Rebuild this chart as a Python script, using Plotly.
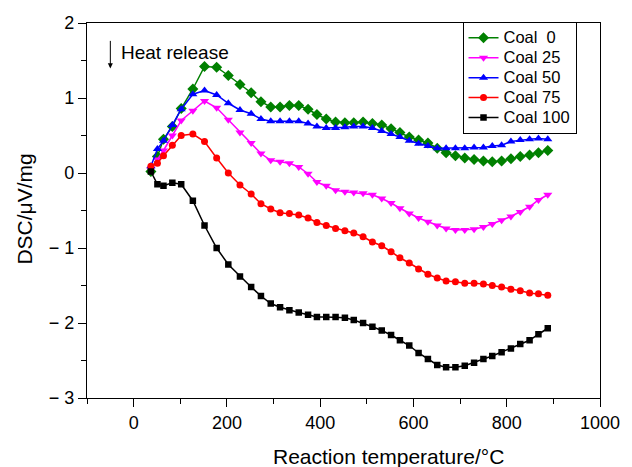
import plotly.graph_objects as go

# Reaction temperature (°C) at each plotted marker
temperature = [37, 51, 64, 83, 102, 127, 152, 178, 203, 228,
               252, 273, 294, 314, 334, 354, 374, 393, 413, 433,
               453, 472, 492, 512, 532, 552, 571, 591, 611, 631,
               651, 670, 690, 710, 730, 750, 769, 789, 809, 829,
               849, 868, 888]

coal_0 = [0.02, 0.22, 0.45, 0.62, 0.86, 1.12, 1.42, 1.41, 1.30, 1.18,
          1.07, 0.95, 0.88, 0.88, 0.90, 0.90, 0.85, 0.78, 0.72, 0.68,
          0.67, 0.67, 0.68, 0.66, 0.64, 0.59, 0.54, 0.48, 0.44, 0.40,
          0.33, 0.27, 0.23, 0.20, 0.18, 0.16, 0.15, 0.16, 0.19, 0.22,
          0.24, 0.27, 0.30]

coal_25 = [0.05, 0.18, 0.30, 0.50, 0.70, 0.83, 0.96, 0.87, 0.71, 0.54,
           0.40, 0.26, 0.17, 0.15, 0.13, 0.08, -0.01, -0.12, -0.17, -0.23,
           -0.25, -0.26, -0.27, -0.29, -0.34, -0.40, -0.47, -0.54, -0.60, -0.65,
           -0.70, -0.74, -0.76, -0.76, -0.75, -0.72, -0.68, -0.63, -0.58, -0.52,
           -0.45, -0.36, -0.29]

coal_50 = [0.09, 0.32, 0.43, 0.64, 0.85, 1.05, 1.10, 1.04, 0.93, 0.84,
           0.79, 0.72, 0.69, 0.69, 0.69, 0.69, 0.66, 0.62, 0.60, 0.60,
           0.61, 0.62, 0.62, 0.60, 0.56, 0.52, 0.48, 0.43, 0.39, 0.36,
           0.33, 0.33, 0.33, 0.33, 0.34, 0.34, 0.36, 0.37, 0.42, 0.44,
           0.45, 0.46, 0.45]

coal_75 = [0.09, 0.13, 0.23, 0.37, 0.50, 0.52, 0.42, 0.20, 0.00, -0.16,
           -0.28, -0.41, -0.48, -0.53, -0.54, -0.56, -0.60, -0.66, -0.70, -0.74,
           -0.77, -0.80, -0.85, -0.92, -0.97, -1.05, -1.13, -1.20, -1.28, -1.35,
           -1.40, -1.44, -1.45, -1.47, -1.47, -1.48, -1.50, -1.52, -1.55, -1.57,
           -1.60, -1.61, -1.63]

coal_100 = [0.02, -0.15, -0.17, -0.13, -0.15, -0.37, -0.70, -1.00, -1.22, -1.38,
            -1.52, -1.64, -1.74, -1.79, -1.83, -1.86, -1.89, -1.92, -1.92, -1.92,
            -1.93, -1.96, -2.00, -2.05, -2.10, -2.16, -2.23, -2.30, -2.40, -2.48,
            -2.56, -2.59, -2.59, -2.57, -2.53, -2.48, -2.44, -2.39, -2.34, -2.28,
            -2.23, -2.15, -2.07]

series_names = ["Coal\u00a0\u00a00", "Coal 25", "Coal 50", "Coal 75", "Coal 100"]
series_values = [coal_0, coal_25, coal_50, coal_75, coal_100]
series_colors = ["#008000", "#ff00ff", "#0000ff", "#ff0000", "#000000"]
series_symbols = ["diamond", "triangle-down", "triangle-up", "circle", "square"]
series_sizes = [8.5, 8, 8, 7, 6.5]

x_tick_values = [0, 200, 400, 600, 800, 1000]
y_tick_values = [-3, -2, -1, 0, 1, 2]
y_tick_labels = ["\u2212 3", "\u2212 2", "\u2212 1", "0", "1", "2"]

FONT = "Liberation Sans, Arial, Helvetica, sans-serif"

fig = go.Figure()
for name, vals, col, sym, sz in zip(series_names, series_values, series_colors,
                                    series_symbols, series_sizes):
    fig.add_trace(go.Scatter(
        x=temperature, y=vals, mode="lines+markers",
        name='<span style="font-size:16.5px">' + name + "</span>",
        line=dict(color=col, width=1.5),
        marker=dict(symbol=sym, size=sz, color=col, line=dict(width=0)),
    ))

fig.update_layout(
    width=632, height=467,
    margin=dict(l=87, r=24, t=23, b=69),
    plot_bgcolor="white", paper_bgcolor="white",
    font=dict(family=FONT, size=18, color="black"),
    showlegend=True,
    legend=dict(
        x=0.732, y=1.003, xanchor="left", yanchor="top",
        bgcolor="white", bordercolor="black", borderwidth=1,
        font=dict(family=FONT, size=13, color="black"),
        itemwidth=30,
    ),
    xaxis=dict(
        range=[-100, 1000], tickmode="array", tickvals=x_tick_values,
        ticks="outside", ticklen=8, tickwidth=1.2, tickcolor="black",
        minor=dict(tickmode="linear", tick0=0, dtick=100, ticks="outside",
                   ticklen=5, tickwidth=1.2, tickcolor="black", showgrid=False),
        showline=True, linecolor="black", linewidth=1.2, mirror=True,
        showgrid=False, zeroline=False,
        tickfont=dict(size=18, family=FONT, color="black"),
    ),
    yaxis=dict(
        range=[-3, 2], tickmode="array", tickvals=y_tick_values,
        ticktext=y_tick_labels,
        ticks="outside", ticklen=8, tickwidth=1.2, tickcolor="black",
        minor=dict(tickmode="linear", tick0=0, dtick=0.5, ticks="outside",
                   ticklen=5, tickwidth=1.2, tickcolor="black", showgrid=False),
        showline=True, linecolor="black", linewidth=1.2, mirror=True,
        showgrid=False, zeroline=False,
        tickfont=dict(size=18, family=FONT, color="black"),
    ),
    yaxis2=dict(
        overlaying="y", side="right", range=[-3, 2],
        tickmode="array", tickvals=y_tick_values, showticklabels=False,
        ticks="inside", ticklen=5, tickwidth=1.2, tickcolor="black",
        minor=dict(tickmode="linear", tick0=0, dtick=0.5, ticks="inside",
                   ticklen=3, tickwidth=1.2, tickcolor="black", showgrid=False),
        showline=False, showgrid=False, zeroline=False,
    ),
    annotations=[
        dict(text="Reaction temperature/\u00b0C", xref="paper", yref="paper",
             x=0.588, y=-0.157, xanchor="center", yanchor="middle",
             showarrow=False, font=dict(size=21, family=FONT, color="black")),
        dict(text="DSC/\u03bcV/mg", xref="paper", yref="paper",
             x=-0.121, y=0.505, xanchor="center", yanchor="middle",
             textangle=-90, showarrow=False,
             font=dict(size=21, family=FONT, color="black")),
        dict(text="Heat release", xref="paper", yref="paper",
             x=0.062, y=0.921, xanchor="left", yanchor="middle",
             showarrow=False, font=dict(size=19, family=FONT, color="black")),
        dict(text="", xref="paper", yref="paper",
             x=0.0455, y=0.879, ax=0, ay=-29,
             showarrow=True, arrowhead=2, arrowsize=1, arrowwidth=1,
             arrowcolor="black", standoff=0, startstandoff=0),
    ],
)

fig.write_html("out.html")
